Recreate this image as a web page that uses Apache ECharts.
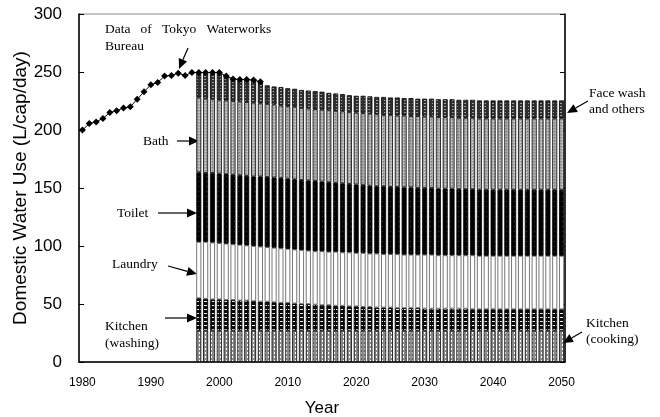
<!DOCTYPE html>
<html>
<head>
<meta charset="utf-8">
<script src="https://cdn.jsdelivr.net/npm/echarts@6/dist/echarts.min.js"></script>
<style>
  html, body { margin: 0; background: #fff; }
  #chart { width: 660px; height: 417px; }
</style>
</head>
<body>
<div id="chart"></div>
<script>
// years on the x axis
const firstYear = 1980;
const lastYear = 2050;
const years = [];
for (let y = firstYear; y <= lastYear; y++) years.push(String(y));

// Tokyo Waterworks Bureau data, 1980-2006
const tokyoData = [200, 205.5, 207, 210, 215, 216.5, 219, 220, 226.5, 233,
  239, 241, 246.5, 247, 249, 247, 249.5, 249.5, 249.5, 249.5,
  249.5, 246.5, 244, 243.5, 243.5, 243, 241.5];

// breakdown by use, 1997-2050
const barStart = 1997;
const cooking = [27, 27, 27, 27, 27, 27, 27, 27, 27, 27,
  27, 27, 27, 27, 27, 27, 27, 27, 27, 27,
  27, 27, 27, 27, 27, 27, 27, 27, 27, 27,
  27, 27, 27, 27, 27, 27, 27, 27, 27, 27,
  27, 27, 27, 27, 27, 27, 27, 27, 27, 27,
  27, 27, 27, 27];
const washing = [28, 27.5, 27, 27, 26.5, 26.5, 26, 26, 25.5, 25,
  25, 24.5, 24, 24, 23.5, 23, 23, 22.5, 22, 22,
  21.5, 21.5, 21, 21, 20.5, 20.5, 20, 20, 20, 19.5,
  19.5, 19.5, 19.5, 19, 19, 19, 19, 19, 19, 19,
  18.5, 18.5, 18.5, 18.5, 18.5, 18.5, 18.5, 18.5, 18.5, 18.5,
  18.5, 18.5, 18.5, 18.5];
const laundry = [48.5, 49, 49, 48.5, 48.5, 48, 48, 47.5, 47.5, 47.5,
  47, 47, 47, 46.5, 46.5, 46.5, 46, 46, 46.5, 46,
  46.5, 46, 46.5, 46, 46.5, 46, 46.5, 46, 46, 46.5,
  46, 46, 46, 46.5, 46.5, 46, 46, 46, 46, 46,
  46.5, 46, 46, 46, 46, 46, 46, 46, 46, 46,
  46, 46, 46, 46];
const toilet = [60, 59.5, 60, 60, 60, 60, 60, 60, 60, 60.5,
  60.5, 60.5, 60.5, 60.5, 60.5, 60.5, 60.5, 60.5, 60, 60,
  59.5, 59.5, 59, 59, 58.5, 58.5, 58, 58.5, 58, 58,
  58, 58, 57.5, 57.5, 57.5, 57.5, 57.5, 57.5, 57, 57,
  57, 57, 57, 57, 57, 57, 57, 57, 57, 57,
  57, 57, 57, 57];
const bath = [64.5, 64, 63.5, 63.5, 63.5, 63.5, 63.5, 63.5, 63.5, 63,
  63, 63, 62.5, 62.5, 62.5, 62, 62, 62, 62, 62,
  62, 62, 62, 62, 62, 62, 62, 61.5, 62, 61.5,
  62, 61.5, 62, 61.5, 61.5, 61.5, 61.5, 61.5, 61.5, 61.5,
  61.5, 61.5, 61.5, 61.5, 61.5, 61.5, 61.5, 61.5, 61.5, 61.5,
  61.5, 61.5, 61.5, 61.5];
const faceWash = [21, 22, 22.5, 23, 21, 19, 18.5, 20, 19.5, 18,
  16, 15.5, 16, 15.5, 15.5, 15.5, 15.5, 15.5, 15.5, 15,
  15, 15, 14.5, 14.5, 15, 15, 15, 15.5, 15, 15.5,
  15, 15.5, 15, 15.5, 15.5, 15.5, 15.5, 15.5, 15.5, 15.5,
  15.5, 15.5, 15.5, 15.5, 15.5, 15.5, 15.5, 15.5, 15.5, 15.5,
  15.5, 15.5, 15.5, 15.5];

// pad a series so it lines up with the year categories
function padFrom(start, arr) {
  const out = [];
  for (let y = firstYear; y <= lastYear; y++) {
    const i = y - start;
    out.push(i >= 0 && i < arr.length ? arr[i] : null);
  }
  return out;
}

// small canvas fill patterns
function pattern(w, h, bg, draw) {
  const c = document.createElement('canvas');
  c.width = w; c.height = h;
  const g = c.getContext('2d');
  g.fillStyle = bg;
  g.fillRect(0, 0, w, h);
  draw(g);
  return { image: c, repeat: 'repeat' };
}
const cookFill = pattern(3, 4, '#8a8a8a', g => { g.fillStyle = '#fff'; g.fillRect(1, 0, 1, 2); });
const washFill = pattern(4, 4, '#0a0a0a', g => { g.fillStyle = '#eee'; g.fillRect(0, 1, 3, 1); });
const toiletFill = pattern(4, 5, '#000', g => { g.fillStyle = '#3a3a3a'; g.fillRect(2, 1, 1, 1); });
const bathFill = pattern(3, 3, '#a8a8a8', g => { g.fillStyle = '#d4d4d4'; g.fillRect(1, 1, 1, 1); g.fillStyle = '#7a7a7a'; g.fillRect(2, 2, 1, 1); });
const faceFill = pattern(4, 3, '#303030', g => { g.fillStyle = '#a0a0a0'; g.fillRect(0, 1, 2, 1); });

function barSeries(name, arr, fill, border) {
  return {
    name: name,
    type: 'bar',
    stack: 'use',
    barWidth: 5,
    data: padFrom(barStart, arr),
    itemStyle: { color: fill, borderColor: border || '#000', borderWidth: 0.8 },
    z: 2
  };
}

// annotation arrow: line with a solid triangular head
function arrow(x1, y1, x2, y2) {
  const a = Math.atan2(y2 - y1, x2 - x1), L = 10, W = 4.5;
  const bx = x2 - L * Math.cos(a), by = y2 - L * Math.sin(a);
  const px = -Math.sin(a) * W, py = Math.cos(a) * W;
  return [
    { type: 'line', shape: { x1: x1, y1: y1, x2: bx, y2: by }, style: { stroke: '#000', lineWidth: 1.2 } },
    { type: 'polygon', shape: { points: [[x2, y2], [bx + px, by + py], [bx - px, by - py]] }, style: { fill: '#000' } }
  ];
}
function note(text, x, y) {
  return { type: 'text', x: x, y: y, style: { text: text, fill: '#000', font: '13.5px "Liberation Serif"', verticalAlign: 'middle' } };
}

const chart = echarts.init(document.getElementById('chart'));
chart.setOption({
  animation: false,
  backgroundColor: '#fff',
  textStyle: { fontFamily: '"Liberation Sans", Arial, sans-serif' },
  grid: {
    left: 79, right: 95, top: 14, bottom: 55,
    outerBoundsMode: 'none', containLabel: false,
    show: true, borderColor: '#888', borderWidth: 1
  },
  xAxis: {
    type: 'category',
    data: years,
    boundaryGap: true,
    axisLine: { lineStyle: { color: '#000', width: 1.5 } },
    axisTick: { inside: true, length: 4, alignWithLabel: true, interval: 0, lineStyle: { color: '#000' } },
    axisLabel: { interval: (i, v) => Number(v) % 10 === 0, fontSize: 12, color: '#000', margin: 15 },
    name: 'Year',
    nameLocation: 'middle',
    nameGap: 38,
    nameMoveOverlap: false,
    nameTextStyle: { fontSize: 17, color: '#000' }
  },
  yAxis: [
    {
      type: 'value', min: 0, max: 300, interval: 50,
      axisLine: { show: true, lineStyle: { color: '#000', width: 1.5 } },
      axisTick: { show: true, inside: true, length: 5, lineStyle: { color: '#000' } },
      splitLine: { show: false },
      axisLabel: { fontSize: 17, color: '#000', margin: 17 },
      name: 'Domestic Water Use (L/cap/day)',
      nameLocation: 'middle',
      nameGap: 49,
      nameMoveOverlap: false,
      nameTextStyle: { fontSize: 19, color: '#000' }
    },
    {
      type: 'value', position: 'right', min: 0, max: 300, interval: 50,
      axisLine: { show: true, lineStyle: { color: '#000', width: 1.5 } },
      axisTick: { show: true, inside: true, length: 5, lineStyle: { color: '#000' } },
      axisLabel: { show: false },
      splitLine: { show: false }
    }
  ],
  series: [
    barSeries('Kitchen (cooking)', cooking, cookFill),
    barSeries('Kitchen (washing)', washing, washFill),
    barSeries('Laundry', laundry, '#fff', '#555'),
    barSeries('Toilet', toilet, toiletFill),
    barSeries('Bath', bath, bathFill),
    barSeries('Face wash and others', faceWash, faceFill),
    {
      name: 'Data of Tokyo Waterworks Bureau',
      type: 'line',
      data: padFrom(firstYear, tokyoData),
      symbol: 'diamond',
      symbolSize: 7,
      showSymbol: true,
      showAllSymbol: true,
      lineStyle: { color: '#000', width: 1 },
      itemStyle: { color: '#000' },
      z: 5
    }
  ],
  graphic: [
    note('Data   of   Tokyo   Waterworks', 105, 29),
    note('Bureau', 105, 46),
    ...arrow(188, 48, 179, 69),
    note('Bath', 143, 141),
    ...arrow(177, 141, 199, 141),
    note('Toilet', 117, 213),
    ...arrow(158, 213, 197, 213),
    note('Laundry', 112, 264),
    ...arrow(168, 266, 197, 274),
    note('Kitchen', 105, 326),
    note('(washing)', 105, 343),
    ...arrow(165, 318, 197, 318),
    note('Face wash', 589, 93),
    note('and others', 589, 109),
    ...arrow(588, 101, 567, 113),
    note('Kitchen', 586, 323),
    note('(cooking)', 586, 339),
    ...arrow(582, 332, 563, 343)
  ]
});
</script>
</body>
</html>
